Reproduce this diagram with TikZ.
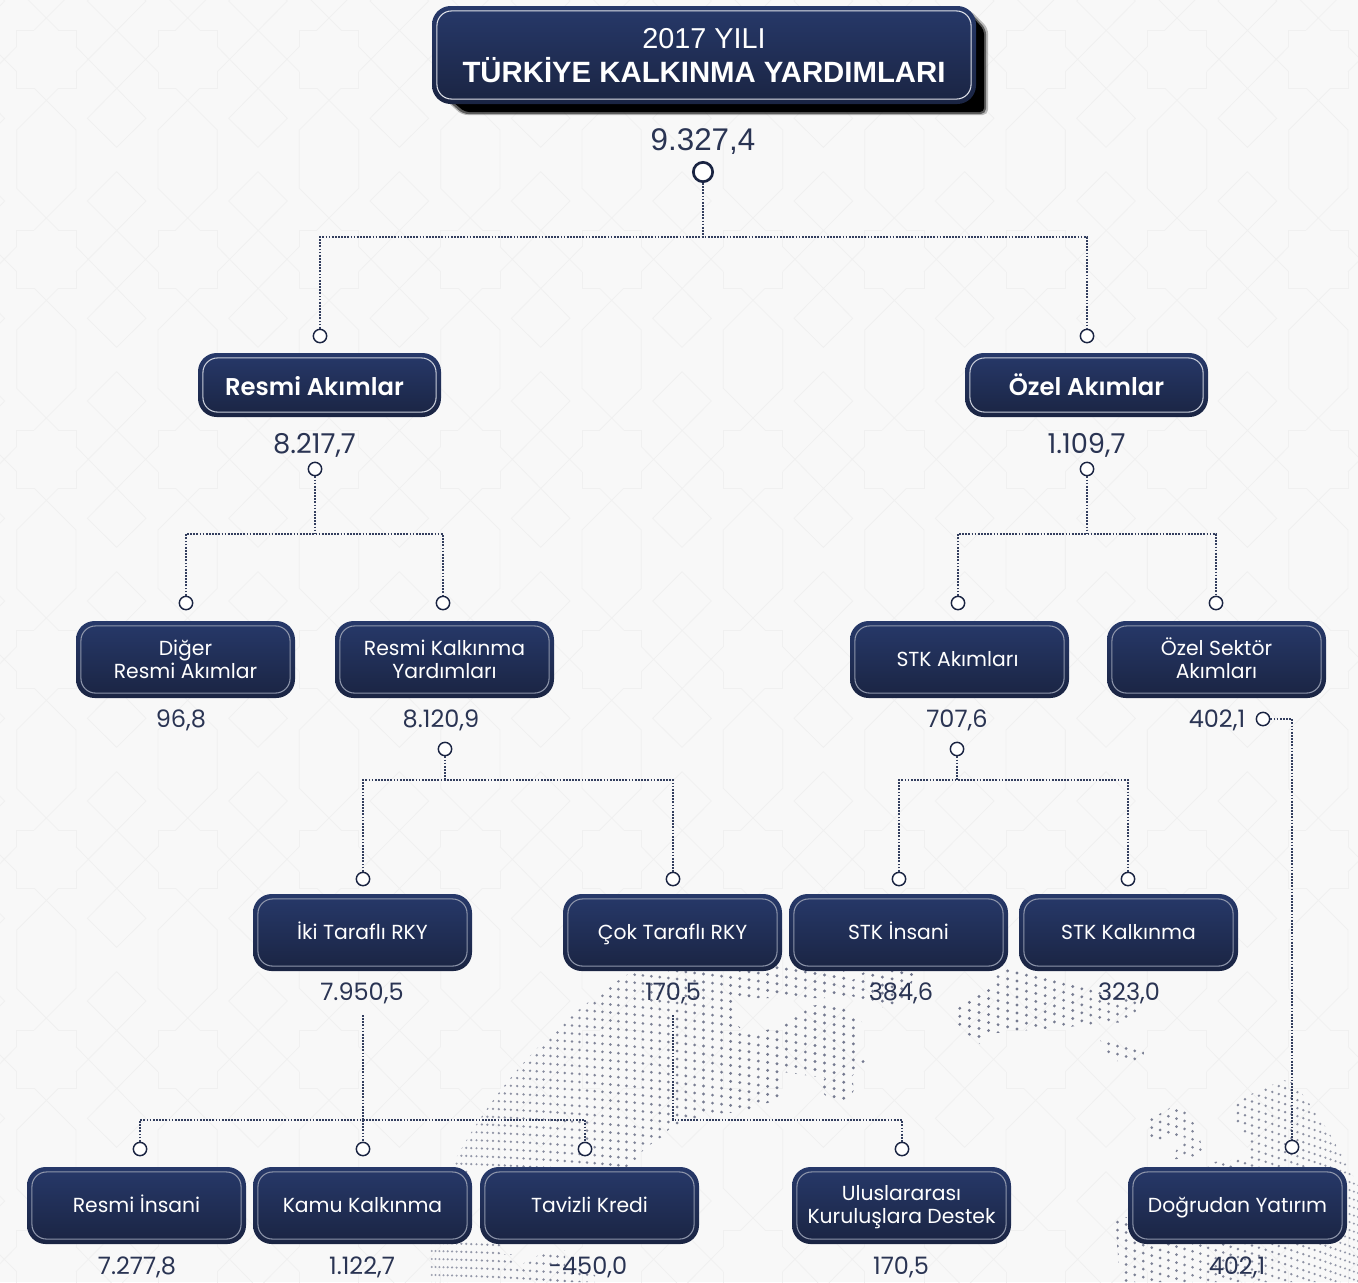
\documentclass[tikz,border=0pt]{standalone}
\usepackage{fontspec}
\setmainfont{Poppins}
\newfontfamily\titlefont{Liberation Sans}
\newfontfamily\semifont{Poppins SemiBold}
\newcommand\stA{\rule[-3.375pt]{0pt}{17.25pt}}
\newcommand\stB{\rule[-2.5pt]{0pt}{20pt}}
\newcommand\stC{\rule[-5.25pt]{0pt}{25.5pt}}
\definecolor{pagebg}{HTML}{F8F8F8}
\definecolor{tileln}{HTML}{F0F0F0}
\definecolor{navytop}{HTML}{27396A}
\definecolor{navybot}{HTML}{1A2442}
\definecolor{innerln}{HTML}{8E96AB}
\definecolor{ink}{HTML}{2A3453}
\definecolor{linkc}{HTML}{333E5E}
\definecolor{dotc}{HTML}{73788E}
\tikzset{
  boxbase/.style={rectangle,rounded corners=14pt,top color=navytop,bottom color=navybot,
    text=white,align=center,inner sep=0pt,
    path picture={\draw[#1,line width=0.8pt,rounded corners=11pt]
      ([shift={(3.7pt,-3.7pt)}]path picture bounding box.north west) rectangle
      ([shift={(-3.7pt,3.7pt)}]path picture bounding box.south east);}},
  boxbase/.default=innerln,
  smallbox/.style={boxbase,minimum width=164.25pt,minimum height=57.75pt,font=\fontsize{15.25pt}{17.25pt}\selectfont},
  midbox/.style={boxbase=white!75!navytop,minimum width=182.25pt,minimum height=48pt,font=\semifont\fontsize{18.2pt}{20pt}\selectfont},
  titlebox/.style={boxbase=white!85!navytop,minimum width=408pt,minimum height=73.5pt,font=\titlefont\fontsize{21.6pt}{25.5pt}\selectfont},
  valnode/.style={text=ink,inner sep=0pt,anchor=base,yshift=-6.75pt,font=\fontsize{18pt}{20pt}\selectfont},
  bigval/.style={text=ink,inner sep=0pt,anchor=base,yshift=-7.9pt,font=\titlefont\fontsize{23.5pt}{26pt}\selectfont},
  midval/.style={text=ink,inner sep=0pt,anchor=base,yshift=-7.5pt,font=\fontsize{20.5pt}{22pt}\selectfont},
  knob/.style={circle,draw=navybot,fill=white,line width=1.1pt,minimum size=10pt,inner sep=0pt},
  bigknob/.style={circle,draw=navybot,fill=white,line width=2pt,minimum size=14.5pt,inner sep=0pt},
  link/.style={draw=linkc,line width=0.85pt,dash pattern=on 1.3pt off 1.05pt},
  tilepath/.style={draw=tileln,line width=0.6pt}
}
\begin{document}
\begin{tikzpicture}[x=0.75pt,y=-0.75pt]
\useasboundingbox (0,0) rectangle (1358,1282);
\fill[pagebg] (0,0) rectangle (1358,1282);
% background tiling
\begin{scope}[x=0.25pt,y=-0.25pt]
\clip (0,0) rectangle (4074,3846);
\foreach \i in {-1,...,9}{\foreach \j in {-1,...,6}{
\begin{scope}[shift={({\i*424},{\j*600})}]
\path[tilepath] (50,140)--(50,90)--(103,90);
\path[tilepath] (175,90)--(228,90)--(228,140);
\path[tilepath] (228,215)--(228,265)--(175,265);
\path[tilepath] (103,265)--(50,265)--(50,215);
\path[tilepath] (175,265)--(50,390)--(50,565)--(175,690);
\path[tilepath] (103,265)--(228,390)--(228,565)--(103,690);
\path[tilepath] (228,140)--(438,355)--(350,442)--(262,355)--(474,140);
\path[tilepath] (228,815)--(438,603)--(350,515)--(262,603)--(474,815);
\end{scope}}}
\end{scope}
% dotted globe
\begin{scope}
\clip (0,0) rectangle (1358,1282);
\clip (900,1400) circle[radius=379pt];
\clip (590,985)--(650,965)--(850,965)--(845,998)--(737,998)--(737,1025)--(750,1035)--(783,1025)--(807,1006)--(840,1003)--(862,1022)--(858,1055)--(867,1063)--(852,1076)--(854,1090)--(846,1105)--(830,1100)--(818,1088)--(825,1078)--(783,1072)--(780,1098)--(745,1112)--(710,1114)--(672,1126)--(663,1136)--(645,1148)--(637,1158)--(623,1170)--(623,1200)--(430,1200)--(430,1050)--cycle
 (430,1240)--(500,1240)--(503,1254)--(515,1254)--(515,1268)--(548,1250)--(565,1250)--(565,1270)--(595,1275)--(595,1282)--(430,1282)--cycle
 (838,990)--(870,968)--(920,968)--(900,1004)--(880,1008)--cycle
 (957,1005)--(987,988)--(1000,968)--(1142,968)--(1142,1005)--(1125,1022)--(1043,1029)--(985,1034)--(980,1044)--(951,1021)--cycle
 (1100,1040)--(1145,1051)--(1141,1061)--(1113,1061)--cycle
 (1145,1122)--(1177,1104)--(1195,1120)--(1204,1155)--(1170,1160)--(1185,1137)--(1145,1141)--cycle
 (1233,1102)--(1283,1080)--(1358,1100)--(1358,1200)--(1200,1200)--(1205,1163)--(1248,1158)--(1250,1137)--(1233,1122)--cycle
 (1115,1218)--(1358,1200)--(1358,1282)--(1120,1282)--cycle;
\foreach \rowy in {900,908,...,1290}{
 \foreach \lon in {-90,-88.9,...,70}{
  \pgfmathsetmacro\gx{900+505*sin(\lon)}
  \pgfmathsetmacro\gd{(\gx-470)/100}
  \pgfmathsetmacro\gy{\rowy+3.5*\gd+1.8*\gd*\gd}
  \pgfmathtruncatemacro\gkeep{(\gy>962 && \gy<1286 && \gx>430 && !(\gy>1116 && \gx>700 && \gx<1112) && !(\gy<1240 && \gy>1172 && \gx<1100)) ? 1 : 0}
  \ifnum\gkeep=1
   \pgfmathsetmacro\gc{cos(\lon)}
   \pgfmathsetmacro\gr{0.6+0.6*\gc}
   \pgfmathtruncatemacro\gp{50+50*\gc}
   \fill[dotc!\gp!pagebg] (\gx,\gy) circle[radius=\gr pt];
  \fi
 }}
\end{scope}
% title shadow
\fill[black,opacity=.25,rounded corners=4pt] (443,98)--(462,115)--(988,115)--(988,28)--(970,10)--cycle;
\fill[black,opacity=.5,rounded corners=4pt] (445,98)--(463,114)--(986,114)--(986,29)--(970,12)--cycle;
\fill[black,rounded corners=3pt] (448,98)--(465,112)--(984,112)--(984,30)--(970,14)--cycle;
% title and root
\node[titlebox] (title) at (704,55) {\stC 2017 YILI\\\stC\fontsize{22pt}{25.5pt}\selectfont\bfseries TÜRKİYE KALKINMA YARDIMLARI};
\node[bigval] (vroot) at (703,140) {9.327,4};
\node[bigknob] (kroot) at (703,172) {};
% level 1
\node[midbox] (resmi) at (319.5,385) {\stB Resmi Akımlar\hspace*{7.5pt}};
\node[midbox] (ozel) at (1086.5,385) {\stB Özel Akımlar};
\node[midval] (vresmi) at (314.5,443) {8.217,7};
\node[midval] (vozel) at (1086.5,443) {1.109,7};
\node[knob] (kinresmi) at (320,336) {};
\node[knob] (kinozel) at (1087,336) {};
\node[knob] (koutresmi) at (315,469) {};
\node[knob] (koutozel) at (1087,469) {};
% level 2
\node[smallbox] (diger) at (185.5,659.5) {\stA\smash{Diğer}\\\stA Resmi Akımlar};
\node[smallbox] (rky) at (444.5,659.5) {\stA Resmi Kalkınma\\\stA Yardımları};
\node[smallbox] (stk) at (959.5,659.5) {\stA STK Akımları\hspace*{3pt}};
\node[smallbox] (sektor) at (1216.5,659.5) {\stA Özel Sektör\\\stA Akımları};
\node[valnode] (vdiger) at (181,718) {96,8};
\node[valnode] (vrky) at (441,718) {8.120,9};
\node[valnode] (vstk) at (957,718) {707,6};
\node[valnode] (vsektor) at (1217,718) {402,1};
\node[knob] (kindiger) at (186,603) {};
\node[knob] (kinrky) at (443,603) {};
\node[knob] (kinstk) at (958,603) {};
\node[knob] (kinsektor) at (1216,603) {};
\node[knob] (koutrky) at (445,749) {};
\node[knob] (koutstk) at (957,749) {};
\node[knob] (koutsektor) at (1263,719) {};
% level 3
\node[smallbox] (iki) at (362.5,932.5) {\stA İki Taraflı RKY};
\node[smallbox] (cok) at (672.5,932.5) {\stA Çok Taraflı RKY};
\node[smallbox] (stkins) at (898.5,932.5) {\stA STK İnsani};
\node[smallbox] (stkkal) at (1128.5,932.5) {\stA STK Kalkınma};
\node[valnode] (viki) at (362,991) {7.950,5};
\node[valnode] (vcok) at (673,991) {170,5};
\node[valnode] (vstkins) at (901,991) {384,6};
\node[valnode] (vstkkal) at (1129,991) {323,0};
\node[knob] (kiniki) at (363,879) {};
\node[knob] (kincok) at (673,879) {};
\node[knob] (kinstkins) at (899,879) {};
\node[knob] (kinstkkal) at (1128,879) {};
% level 4
\node[smallbox] (insani) at (136.5,1205.5) {\stA Resmi İnsani};
\node[smallbox] (kamu) at (362.5,1205.5) {\stA Kamu Kalkınma};
\node[smallbox] (tavizli) at (589.5,1205.5) {\stA Tavizli Kredi};
\node[smallbox] (ulus) at (901.5,1205.5) {\stA Uluslararası\\\stA Kuruluşlara Destek};
\node[smallbox] (dogrudan) at (1237.5,1205.5) {\stA Doğrudan Yatırım};
\node[valnode] (vinsani) at (137,1265) {7.277,8};
\node[valnode] (vkamu) at (362,1265) {1.122,7};
\node[valnode] (vtavizli) at (588,1265) {-450,0};
\node[valnode] (vulus) at (901,1265) {170,5};
\node[valnode] (vdogrudan) at (1237,1265) {402,1};
\node[knob] (kininsani) at (140,1149) {};
\node[knob] (kinkamu) at (363,1149) {};
\node[knob] (kintavizli) at (585,1149) {};
\node[knob] (kinulus) at (902,1149) {};
\node[knob] (kindogrudan) at (1292,1147) {};
% junctions
\coordinate (jroot) at (703,237);
\coordinate (jresmi) at (315,534);
\coordinate (jozel) at (1087,534);
\coordinate (jrky) at (445,780);
\coordinate (jstk) at (957,780);
\coordinate (jiki) at (363,1120);
\coordinate (jcok) at (673,1120);
\coordinate (siki) at (363,1015);
\coordinate (scok) at (673,1015);
\coordinate (jsektor) at (1292,719);
% connectors
\draw[link] (kroot) -- (jroot);
\draw[link] (kinresmi) |- (jroot) -| (kinozel);
\draw[link] (koutresmi) -- (jresmi);
\draw[link] (kindiger) |- (jresmi) -| (kinrky);
\draw[link] (koutozel) -- (jozel);
\draw[link] (kinstk) |- (jozel) -| (kinsektor);
\draw[link] (koutrky) -- (jrky);
\draw[link] (kiniki) |- (jrky) -| (kincok);
\draw[link] (koutstk) -- (jstk);
\draw[link] (kinstkins) |- (jstk) -| (kinstkkal);
\draw[link] (koutsektor) -- (jsektor) -- (kindogrudan);
\draw[link] (siki) -- (jiki);
\draw[link] (kininsani) |- (jiki) -| (kintavizli);
\draw[link] (jiki) -- (kinkamu);
\draw[link] (scok) -- (jcok) -| (kinulus);
\end{tikzpicture}
\end{document}
